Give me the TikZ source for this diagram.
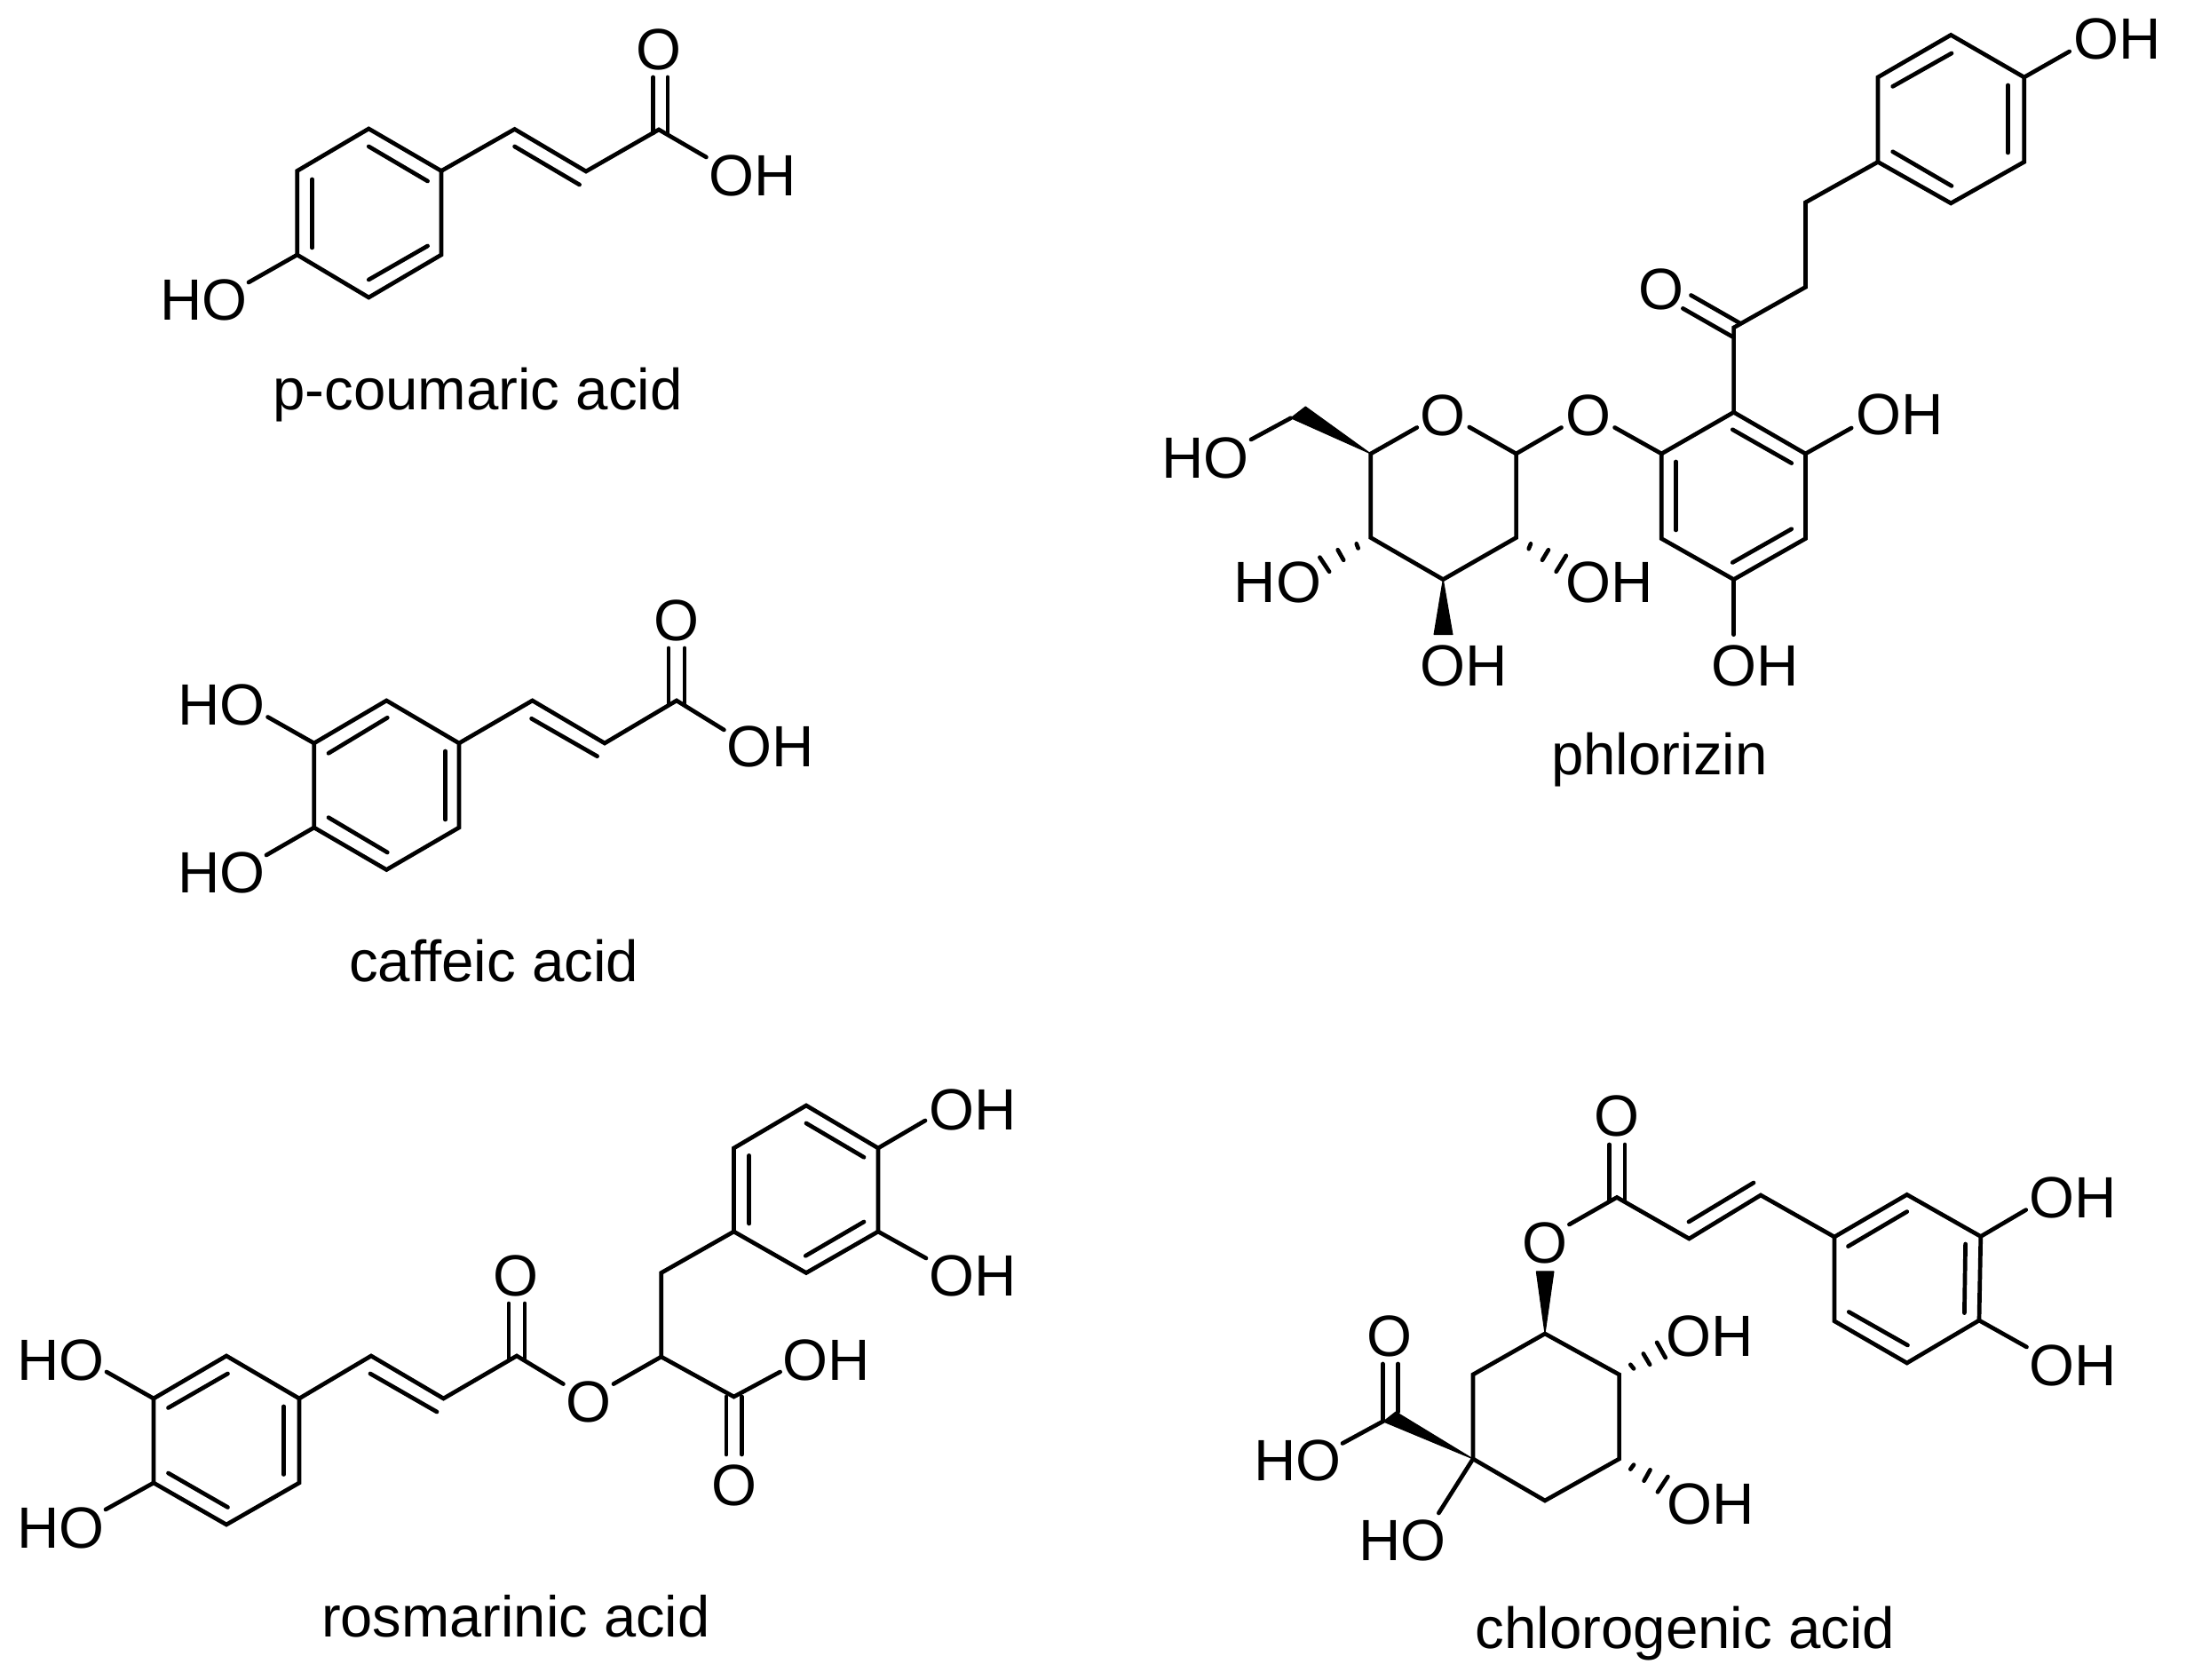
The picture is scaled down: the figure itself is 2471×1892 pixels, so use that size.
\documentclass[tikz,border=0pt]{standalone}
\usepackage{fontspec}
\setmainfont{Liberation Sans}
\usetikzlibrary{calc}
\tikzset{
  bond/.style={line width=0.047cm,line cap=round,line join=miter,black},
  wedge/.style={fill=black,draw=black,line width=0.01cm,line join=round},
  atom/.style={inner sep=0pt,outer sep=0pt,font=\fontsize{18.64}{20}\selectfont},
  caption/.style={inner sep=0pt,outer sep=0pt,anchor=base,font=\fontsize{18.6}{20}\selectfont}
}
% name, x, y
\newcommand\pnt[3]{\coordinate (#1) at (#2,#3);}
% name, x1, y1, x2, y2 : a free line such as the inner stroke of a double bond
\newcommand\stroke[5]{\coordinate (#1s) at (#2,#3);\coordinate (#1e) at (#4,#5);\draw[bond] (#1s) -- (#1e);}
% atom labels positioned by the centre of the O
\newcommand\OH[3]{\node[atom,anchor=base west] (#1) at ($(#2,#3)+(-25.5,23.4)$) {OH};}
\newcommand\HO[3]{\node[atom,anchor=base east] (#1) at ($(#2,#3)+(26.5,23.4)$) {HO};}
\newcommand\Oat[3]{\node[atom,anchor=base] (#1) at ($(#2,#3)+(0,23.4)$) {O};}
\begin{document}
\begin{tikzpicture}[x=0.01cm,y=-0.01cm]
\useasboundingbox (0,0) rectangle (2471,1892);
\fill[white] (0,0) rectangle (2471,1892);

% ---------- p-coumaric acid ----------
\pnt{a1}{415.3}{145}\pnt{a2}{497}{192.5}\pnt{a3}{497}{287}\pnt{a4}{415.3}{335}\pnt{a5}{334.7}{287}\pnt{a6}{334.7}{192.5}
\pnt{a7}{579.6}{145.5}\pnt{a8}{660}{193}\pnt{a9}{742}{146}
\pnt{aOHe}{795.4}{177}\pnt{aHOe}{280}{318}
\draw[bond] (a1) -- (a2) -- (a3) -- (a4) -- (a5) -- (a6) -- cycle;
\draw[bond] (a2) -- (a7) -- (a8) -- (a9) -- (aOHe);
\draw[bond] (a5) -- (aHOe);
\stroke{ai1}{415.3}{165}{481.6}{204}
\stroke{ai2}{351.5}{202}{351.5}{279}
\stroke{ai3}{481.6}{277}{415.3}{315}
\stroke{ai4}{579.6}{165}{652.6}{208}
\stroke{ad1}{735.7}{87}{735.7}{150}
\stroke{ad2}{752}{87}{752}{150}
\Oat{aO}{742}{55}
\OH{aOH}{823.5}{197}
\HO{aHO}{252}{337}
\node[caption] (acap) at (538,462) {p-coumaric acid};

% ---------- caffeic acid ----------
\pnt{b1}{435.3}{789}\pnt{b2}{517}{837}\pnt{b3}{517}{932}\pnt{b4}{435.3}{979.5}\pnt{b5}{353.7}{932}\pnt{b6}{353.7}{837}
\pnt{b7}{599.6}{789}\pnt{b8}{681}{837}\pnt{b9}{762}{789}
\pnt{bOHe}{815.4}{822}\pnt{bHOte}{301.6}{807.5}\pnt{bHObe}{300}{963}
\draw[bond] (b1) -- (b2) -- (b3) -- (b4) -- (b5) -- (b6) -- cycle;
\draw[bond] (b2) -- (b7) -- (b8) -- (b9) -- (bOHe);
\draw[bond] (b6) -- (bHOte);
\draw[bond] (b5) -- (bHObe);
\stroke{bi1}{370}{848.3}{436.3}{808.3}
\stroke{bi2}{501.6}{846}{501.6}{923}
\stroke{bi3}{370}{920.7}{436.3}{960}
\stroke{bi4}{598.6}{809.3}{672.6}{851.7}
\stroke{bd1}{753}{730}{753}{793}
\stroke{bd2}{771}{730}{771}{793}
\Oat{bO}{762}{698}
\OH{bOH}{843.5}{840}
\HO{bHOt}{272}{793}
\HO{bHOb}{272}{982}
\node[caption] (bcap) at (556.3,1106) {caffeic acid};

% ---------- rosmarinic acid ----------
\pnt{c1}{255}{1527}\pnt{c2}{337}{1575}\pnt{c3}{337}{1670}\pnt{c4}{255}{1717}\pnt{c5}{173}{1670}\pnt{c6}{173}{1575}
\pnt{c7}{418}{1527}\pnt{c8}{499.5}{1575}\pnt{c9}{582}{1527}
\pnt{cOl}{634.4}{1558.6}\pnt{cOr}{691}{1558.6}
\pnt{c10}{744.7}{1528}\pnt{c11}{744.7}{1433.5}\pnt{c12}{826.5}{1573}\pnt{cOHe}{878.6}{1545}
\pnt{d1}{908}{1245}\pnt{d2}{989}{1293}\pnt{d3}{989}{1387}\pnt{d4}{908}{1433.5}\pnt{d5}{826.5}{1387}\pnt{d6}{826.5}{1293}
\pnt{dOHte}{1042}{1262}\pnt{dOHbe}{1043}{1417}
\pnt{cHOte}{120}{1545}\pnt{cHObe}{119}{1700}
\draw[bond] (c1) -- (c2) -- (c3) -- (c4) -- (c5) -- (c6) -- cycle;
\draw[bond] (c2) -- (c7) -- (c8) -- (c9) -- (cOl);
\draw[bond] (cOr) -- (c10) -- (c12) -- (cOHe);
\draw[bond] (c10) -- (c11) -- (d5);
\draw[bond] (d1) -- (d2) -- (d3) -- (d4) -- (d5) -- (d6) -- cycle;
\draw[bond] (d2) -- (dOHte);
\draw[bond] (d3) -- (dOHbe);
\draw[bond] (c6) -- (cHOte);
\draw[bond] (c5) -- (cHObe);
\stroke{ci1}{189.5}{1585.5}{256.5}{1547}
\stroke{ci2}{319.5}{1584}{319.5}{1660.5}
\stroke{ci3}{189.5}{1659}{256.5}{1697.5}
\stroke{ci4}{417}{1547}{492}{1590}
\stroke{cd1}{573}{1468}{573}{1531}
\stroke{cd2}{591}{1468}{591}{1531}
\stroke{cd3}{818}{1573}{818}{1638}
\stroke{cd4}{835.4}{1573}{835.4}{1638}
\stroke{di1}{908}{1265}{973}{1303.3}
\stroke{di2}{843.8}{1301.4}{843.8}{1378}
\stroke{di3}{907.3}{1414.3}{973}{1376}
\Oat{cO}{581}{1436.5}
\Oat{cE}{663}{1578}
\Oat{cO2}{826.5}{1672.6}
\OH{cOH}{907}{1531}
\OH{dOHt}{1071.5}{1249}
\OH{dOHb}{1071.5}{1436.5}
\HO{cHOt}{91}{1531}
\HO{cHOb}{91}{1720}
\node[caption,font=\fontsize{18.5}{20}\selectfont] (ccap) at (580.8,1844) {rosmarinic acid};

% ---------- chlorogenic acid ----------
\pnt{e1}{1740}{1502}\pnt{e2}{1823.6}{1548}\pnt{e3}{1823.6}{1643}\pnt{e4}{1740}{1690}\pnt{e5}{1659}{1643}\pnt{e6}{1659}{1548}
\pnt{e7}{1821}{1348.5}\pnt{e8}{1902.4}{1395}\pnt{e9}{1983}{1346}
\pnt{eOe}{1767.4}{1379}
\pnt{f1}{2147.7}{1345.4}\pnt{f2}{2230.8}{1392.5}\pnt{f3}{2229}{1487}\pnt{f4}{2147.7}{1535}\pnt{f5}{2066}{1487.8}\pnt{f6}{2066}{1393}
\pnt{fOHte}{2281.7}{1362.6}\pnt{fOHbe}{2282.5}{1517}
\pnt{eC}{1558}{1600.5}\pnt{eHOe}{1512}{1625.5}\pnt{eHO2e}{1620.4}{1704}
\pnt{ew1}{1730.3}{1432}\pnt{ew2}{1750}{1432}
\pnt{ew3}{1558}{1601}\pnt{ew4}{1572}{1590}
\draw[bond] (e1) -- (e2) -- (e3) -- (e4) -- (e5) -- (e6) -- cycle;
\draw[bond] (eOe) -- (e7) -- (e8) -- (e9) -- (f6);
\draw[bond] (f1) -- (f2) -- (f3) -- (f4) -- (f5) -- (f6) -- cycle;
\draw[bond] (f2) -- (fOHte);
\draw[bond] (f3) -- (fOHbe);
\draw[bond] (eC) -- (eHOe);
\draw[bond] (e5) -- (eHO2e);
\fill[wedge] (e1) -- (ew1) -- (ew2) -- cycle;
\fill[wedge] (e5) -- (ew3) -- (ew4) -- cycle;
\stroke{ei1}{1902}{1376}{1975}{1332}
\stroke{ed1}{1812.5}{1289}{1812.5}{1352}
\stroke{ed2}{1830}{1289}{1830}{1352}
\stroke{ed3}{1557.3}{1536}{1557.3}{1600}
\stroke{ed4}{1574.5}{1536}{1574.5}{1590}
\stroke{fi1}{2081.5}{1403.6}{2147.7}{1364.6}
\stroke{fi2}{2213.6}{1401}{2212.4}{1478.6}
\stroke{fi3}{2082.3}{1477.5}{2148.5}{1515}
\stroke{eh1}{1836.3}{1536.8}{1840}{1541.4}
\stroke{eh2}{1850.8}{1524.5}{1858.1}{1536.8}
\stroke{eh3}{1866.1}{1511.9}{1875.7}{1529}
\stroke{eh4}{1836.3}{1654.6}{1840}{1649.6}
\stroke{eh5}{1851.6}{1667.7}{1858.5}{1655.4}
\stroke{eh6}{1866.9}{1680.3}{1878.4}{1663}
\Oat{eO1}{1821}{1256.6}
\Oat{eO2}{1739.5}{1399}
\Oat{eO3}{1565}{1504}
\HO{eHO}{1484}{1644}
\HO{eHO2}{1602}{1734.6}
\OH{eOH1}{1902}{1504}
\OH{eOH2}{1903}{1693}
\OH{fOHt}{2311}{1348.5}
\OH{fOHb}{2311}{1536.8}
\node[caption] (ecap) at (1898,1857) {chlorogenic acid};

% ---------- phlorizin ----------
\pnt{g1}{1543.8}{511}\pnt{g2}{1543.8}{605.5}\pnt{g3}{1625.3}{652.6}\pnt{g4}{1707.6}{605.5}\pnt{g5}{1707.6}{511}
\pnt{gOl}{1595.8}{481.5}\pnt{gOr}{1654.8}{481}
\pnt{gLe}{1758.5}{481.5}\pnt{gRe}{1818.6}{481.5}
\pnt{gw1}{1470.3}{458}\pnt{gw2}{1453.8}{470.8}\pnt{gHOe}{1409}{495}
\pnt{gw3}{1615}{714.6}\pnt{gw4}{1636}{714.6}
\pnt{h1}{1952.6}{464.3}\pnt{h2}{2033.4}{511}\pnt{h3}{2033.4}{606.6}\pnt{h4}{1952.6}{652.6}\pnt{h5}{1871.3}{606.6}\pnt{h6}{1871.3}{511}
\pnt{hOHe}{2085.2}{482}\pnt{hOHb}{1952.6}{714.7}
\pnt{h7}{1952.6}{369}\pnt{h8}{2033.4}{323.4}\pnt{h9}{2033.4}{228}
\pnt{k1}{2197.2}{39.4}\pnt{k2}{2279.7}{87}\pnt{k3}{2279.7}{182.4}\pnt{k4}{2197.2}{228.9}\pnt{k5}{2115}{182.4}\pnt{k6}{2115}{87}
\pnt{kOHe}{2330.7}{58}
\draw[bond] (gOl) -- (g1) -- (g2) -- (g3) -- (g4) -- (g5) -- (gOr);
\draw[bond] (g5) -- (gLe);
\draw[bond] (gRe) -- (h6);
\draw[bond] (gw2) -- (gHOe);
\fill[wedge] (g1) -- (gw1) -- (gw2) -- cycle;
\fill[wedge] (g3) -- (gw3) -- (gw4) -- cycle;
\draw[bond] (h1) -- (h2) -- (h3) -- (h4) -- (h5) -- (h6) -- cycle;
\draw[bond] (h2) -- (hOHe);
\draw[bond] (h4) -- (hOHb);
\draw[bond] (h1) -- (h7) -- (h8) -- (h9) -- (k5);
\draw[bond] (k1) -- (k2) -- (k3) -- (k4) -- (k5) -- (k6) -- cycle;
\draw[bond] (k2) -- (kOHe);
\stroke{gh1}{1527.7}{612.4}{1529.6}{617.4}
\stroke{gh2}{1506.7}{619.3}{1513.2}{630.8}
\stroke{gh3}{1486.4}{627.7}{1497.1}{643.8}
\stroke{gh4}{1724}{612.4}{1721.7}{618.1}
\stroke{gh5}{1743.9}{619.3}{1737}{630.8}
\stroke{gh6}{1763.8}{625.8}{1752.7}{643.8}
\stroke{hi1}{1951.3}{483.8}{2017.7}{521.6}
\stroke{hi2}{1887.5}{520}{1887.5}{597}
\stroke{hi3}{1951.3}{633.5}{2017.7}{595.8}
\stroke{hd1}{1904.5}{332.5}{1959.6}{364}
\stroke{hd2}{1895.4}{347.4}{1951.3}{379.3}
\stroke{ki1}{2131.7}{97.4}{2198}{60}
\stroke{ki2}{2261.4}{96}{2261.4}{172}
\stroke{ki3}{2131.7}{170.8}{2198}{209.4}
\Oat{gO}{1625.3}{467}
\Oat{gG}{1788.7}{467}
\Oat{hO}{1870.5}{325.5}
\HO{gHO}{1380.4}{514.8}
\HO{gHO2}{1461.5}{655.6}
\OH{gOH1}{1788.7}{655.6}
\OH{gOH2}{1625.3}{749.4}
\OH{hOH1}{2116}{466.4}
\OH{hOH2}{1953}{749.4}
\OH{kOH}{2360.5}{42.7}
\node[caption] (gcap) at (1869,873) {phlorizin};
\end{tikzpicture}
\end{document}
